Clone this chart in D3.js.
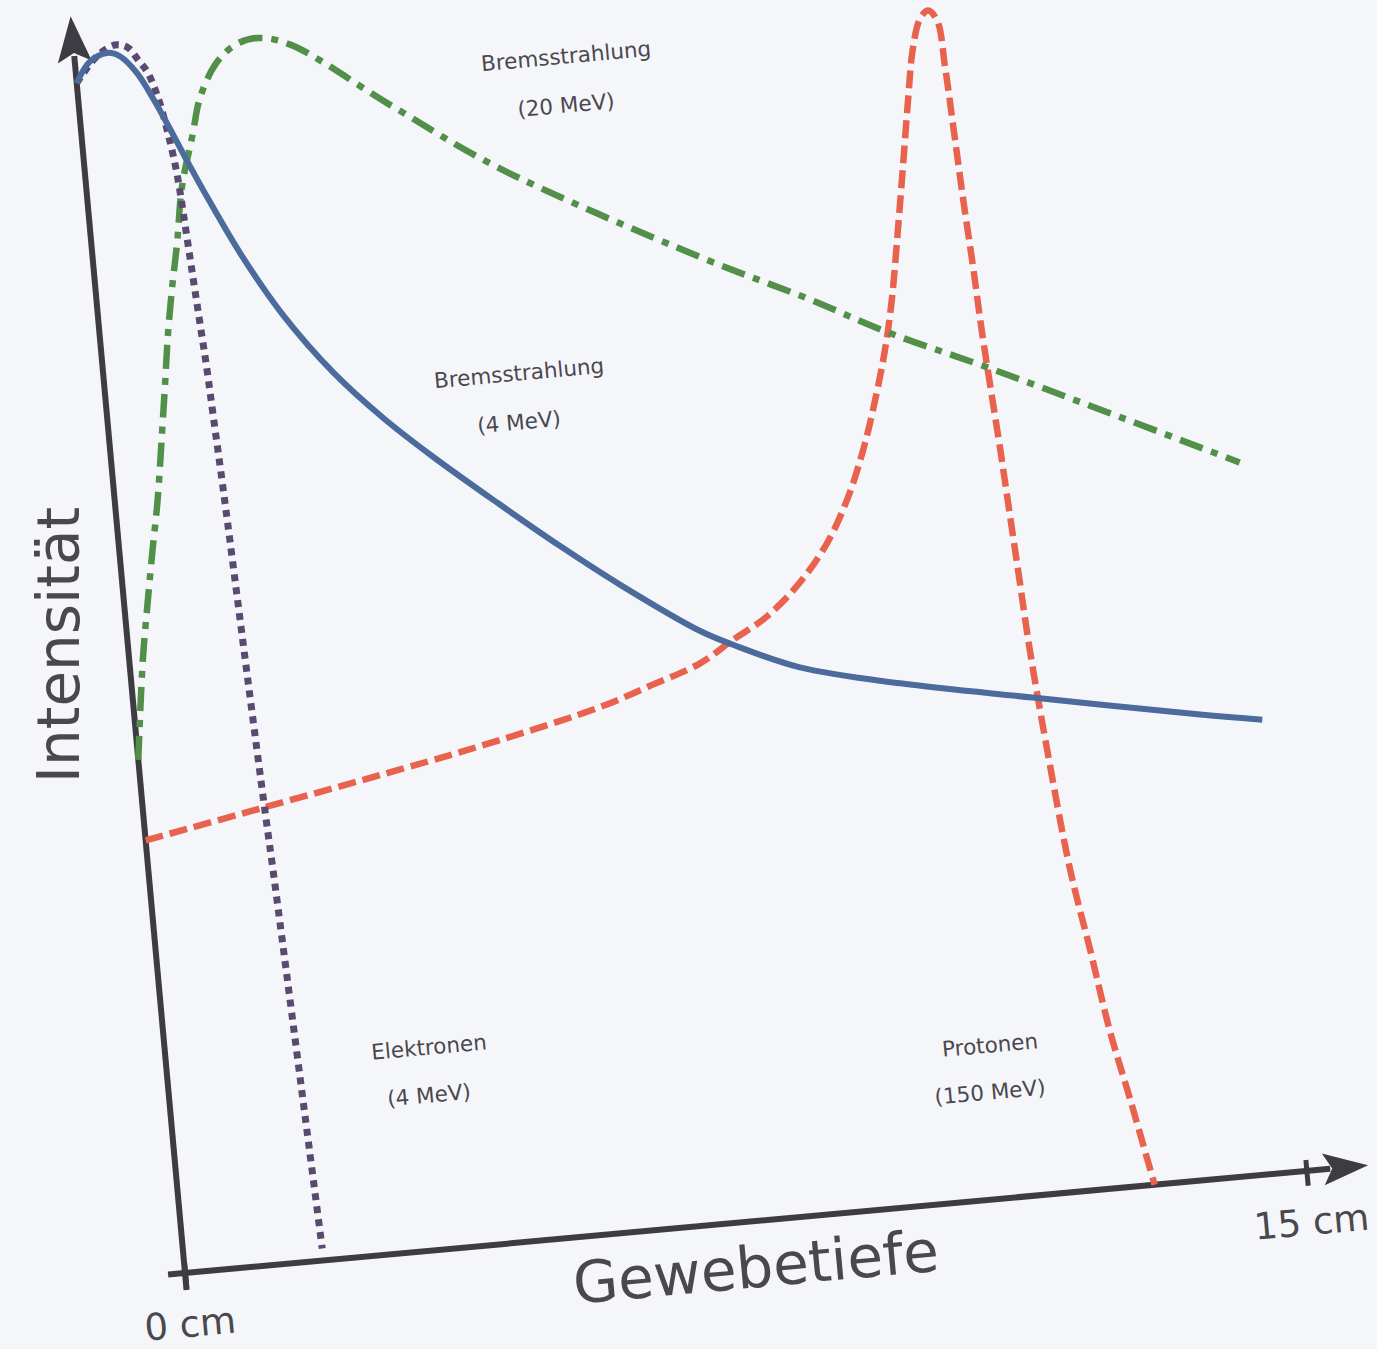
<!DOCTYPE html>
<html>
  <head>
    <meta charset="utf-8">
    <title>Intensität über Gewebetiefe</title>
    <style type="text/css">
     html, body {
       margin: 0;
       padding: 0;
       background: #f5f6fa;
     }
     svg {
       display: block;
       font-family: "DejaVu Sans", sans-serif;
     }
     .curve {
       fill: none;
       stroke-linecap: butt;
       stroke-linejoin: round;
     }
     .label {
       fill: #4a484e;
       font-size: 21.5px;
     }
    </style>
  </head>
  <body>
    <svg width="1377" height="1349"></svg>
    <script src="https://cdn.jsdelivr.net/npm/d3@7"></script>
    <script>
     // depth in cm, intensity in % of proton peak
     var bremsLowDepth = [0, 0.20, 0.44, 0.61, 0.81, 0.99, 1.18, 1.34, 1.62, 1.99, 2.46, 3.06, 3.67, 4.28, 5.07, 5.85, 6.60, 7.61, 8.03, 8.89, 10.20, 11.94, 14.14, 14.96];
     var bremsLowIntensity = [100.4, 102.1, 102.7, 102.3, 100.8, 98.6, 95.9, 93.5, 89.5, 84.6, 79.4, 74.2, 70.0, 66.4, 62.1, 58.0, 54.3, 49.8, 48.4, 46.0, 43.9, 41.7, 39.0, 38.1];

     var bremsHighDepth = [0, 0.18, 0.32, 0.45, 0.57, 0.71, 0.81, 0.91, 1.02, 1.14, 1.27, 1.48, 1.61, 1.86, 2.15, 2.46, 2.88, 4.13, 5.47, 8.06, 9.47, 10.45, 11.73, 13.18, 14.97];
     var bremsHighIntensity = [43.3, 51.6, 56.6, 61.0, 64.9, 70.5, 74.6, 78.8, 82.6, 86.3, 90.9, 95.3, 98.1, 100.9, 102.4, 102.8, 102.0, 96.2, 90.2, 81.1, 76.7, 73.4, 69.7, 65.3, 59.8];

     var electronDepth = [0, 0.30, 0.55, 0.72, 0.84, 0.95, 1.06, 1.15, 1.22, 1.26, 1.30, 1.34, 1.38, 1.41, 1.45, 1.48, 1.55, 1.62, 1.66, 1.80, 1.85];
     var electronIntensity = [100.4, 102.5, 103.3, 103.0, 101.9, 100.8, 98.6, 95.5, 92.1, 88.4, 84.1, 79.9, 75.7, 71.4, 65.8, 61.0, 49.1, 37.9, 32.2, 9.3, 1.0];

     var protonDepth = [0, 1.56, 3.46, 4.82, 6.19, 6.88, 7.57, 8.03, 8.51, 8.99, 9.40, 9.72, 9.99, 10.21, 10.40, 10.55, 10.71, 10.86, 11.01, 11.13, 11.26, 11.38, 11.49, 11.54, 11.58, 11.62, 11.67, 11.71, 11.81, 11.86, 11.91, 11.96, 12.07, 12.23, 12.40, 12.56, 12.75, 12.97];
     var protonIntensity = [36.5, 38.3, 40.5, 42.2, 44.2, 45.6, 47.1, 48.8, 50.5, 53.1, 56.2, 59.7, 63.7, 67.8, 71.9, 76.0, 81.6, 87.1, 92.7, 96.8, 99.3, 100, 99.1, 95.1, 89.6, 83.9, 78.2, 72.6, 62.7, 57.0, 51.4, 45.7, 37.2, 27.0, 20.1, 13.3, 7.3, 0];

     var tickValues = [0, 15];
     var labels = [
       {lines: ["Bremsstrahlung", "(20 MeV)"], x: 566, y: [56, 105]},
       {lines: ["Bremsstrahlung", "(4 MeV)"], x: 519, y: [373, 422]},
       {lines: ["Elektronen", "(4 MeV)"], x: 429, y: [1047, 1095]},
       {lines: ["Protonen", "(150 MeV)"], x: 990, y: [1045, 1092]}
     ];

     var svg = d3.select("svg"),
         tilt = -5.2; // the scanned sheet is a bit rotated

     svg.append("rect")
        .attr("width", 1377)
        .attr("height", 1349)
        .attr("fill", "#f5f6fa");

     var x = d3.scaleLinear().domain([0, 15]).range([0, 1126]);
     var y = d3.scaleLinear().domain([0, 100]).range([0, -1190]);

     var plot = svg.append("g")
                   .attr("transform", `translate(185,1273) rotate(${tilt})`);

     function zipSeries(depth, intensity) {
       return depth.map((d, i) => [d, intensity[i]]);
     }

     var line = d3.line()
                  .x(d => x(d[0]))
                  .y(d => y(d[1]))
                  .curve(d3.curveCatmullRom.alpha(0.5));

     var series = [
       {data: zipSeries(protonDepth, protonIntensity), color: "#e9624d", width: 6.5, dash: "18,7"},
       {data: zipSeries(bremsHighDepth, bremsHighIntensity), color: "#52904a", width: 6.5, dash: "24,9,7,9"},
       {data: zipSeries(electronDepth, electronIntensity), color: "#5b4a6f", width: 7, dash: "7,6"},
       {data: zipSeries(bremsLowDepth, bremsLowIntensity), color: "#4b6b9c", width: 6, dash: null}
     ];

     // axes
     var axisColor = "#3f3b43";
     plot.append("line")
         .attr("x1", 0).attr("y1", 17)
         .attr("x2", 0).attr("y2", -1222)
         .attr("stroke", axisColor)
         .attr("stroke-width", 6);
     plot.append("path")
         .attr("d", "M0,-1262 L17,-1216 L0,-1225 L-17,-1216 Z")
         .attr("fill", axisColor);

     plot.append("line")
         .attr("x1", -17).attr("y1", 0)
         .attr("x2", 1150).attr("y2", 0)
         .attr("stroke", axisColor)
         .attr("stroke-width", 6);
     plot.append("path")
         .attr("d", "M1188,0 L1143,-16 L1152,0 L1143,16 Z")
         .attr("fill", axisColor);

     var xAxis = plot.append("g")
                     .call(d3.axisBottom(x)
                             .tickValues(tickValues)
                             .tickFormat(d => d + " cm"));
     xAxis.select(".domain").remove();
     xAxis.selectAll(".tick line")
          .attr("y1", -11)
          .attr("y2", 15)
          .attr("stroke", axisColor)
          .attr("stroke-width", 5);
     xAxis.selectAll(".tick text")
          .attr("y", 64)
          .attr("dy", null)
          .attr("fill", "#4a484e")
          .style("font-size", "37px")
          .style("font-family", "DejaVu Sans, sans-serif");

     plot.append("text")
         .attr("x", 569)
         .attr("y", 66)
         .attr("text-anchor", "middle")
         .attr("fill", "#4a484e")
         .style("font-size", "58px")
         .text("Gewebetiefe");

     svg.append("text")
        .attr("transform", "translate(79,645) rotate(-90)")
        .attr("text-anchor", "middle")
        .attr("fill", "#4a484e")
        .style("font-size", "58px")
        .text("Intensität");

     // curves
     plot.append("g")
         .selectAll("path")
         .data(series)
         .enter()
         .append("path")
         .attr("class", "curve")
         .attr("d", d => line(d.data))
         .attr("stroke", d => d.color)
         .attr("stroke-width", d => d.width)
         .attr("stroke-dasharray", d => d.dash);

     // curve labels
     labels.forEach(function(l) {
       l.lines.forEach(function(t, i) {
         svg.append("text")
            .attr("class", "label")
            .attr("transform", `translate(${l.x},${l.y[i]}) rotate(${tilt})`)
            .attr("text-anchor", "middle")
            .attr("dy", "0.35em")
            .text(t);
       });
     });
    </script>
  </body>
</html>
